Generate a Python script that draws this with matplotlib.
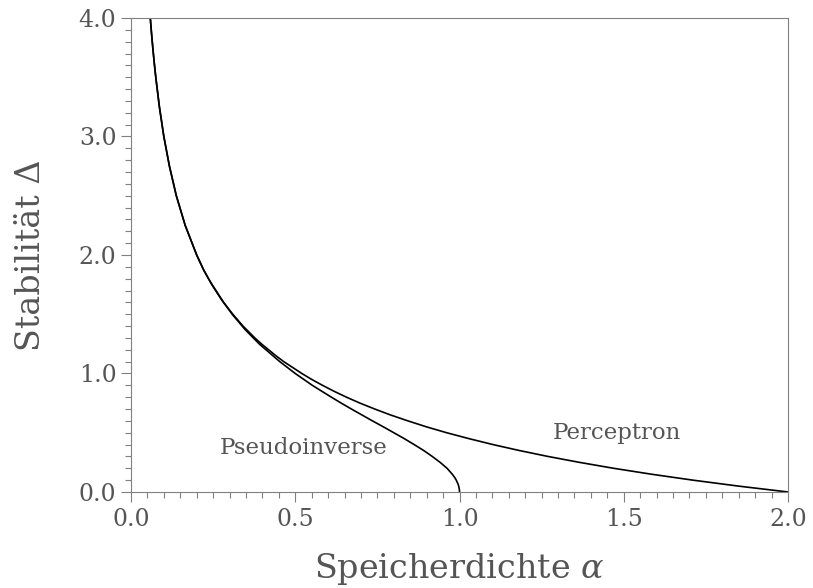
import matplotlib
matplotlib.use("Agg")
import matplotlib.pyplot as plt
from matplotlib.ticker import MultipleLocator

# Kurven (alpha, Delta)
perc_alpha = [0.0588, 0.0624, 0.0664, 0.0707, 0.0755, 0.0865, 0.100, 0.117, 0.138,
              0.165, 0.200, 0.221, 0.236, 0.247, 0.282, 0.310, 0.341, 0.377,
              0.397, 0.441, 0.465, 0.520, 0.550, 0.583, 0.618, 0.656, 0.697,
              0.742, 0.790, 0.843, 0.899, 0.961, 1.029, 1.102, 1.182, 1.269,
              1.365, 1.469, 1.584, 1.710, 1.848, 2.000]
perc_delta = [4.000, 3.875, 3.750, 3.625, 3.500, 3.250, 3.000, 2.750, 2.500,
              2.250, 2.000, 1.875, 1.800, 1.750, 1.600, 1.500, 1.400, 1.300,
              1.250, 1.150, 1.100, 1.000, 0.950, 0.900, 0.850, 0.800, 0.750,
              0.700, 0.650, 0.600, 0.550, 0.500, 0.450, 0.400, 0.350, 0.300,
              0.250, 0.200, 0.150, 0.100, 0.050, 0.000]

pinv_alpha = [0.0588, 0.0624, 0.0664, 0.0707, 0.0755, 0.0865, 0.100, 0.117, 0.138,
              0.165, 0.200, 0.221, 0.246, 0.275, 0.308, 0.346, 0.390, 0.453,
              0.500, 0.526, 0.552, 0.581, 0.610, 0.640, 0.671, 0.703, 0.735,
              0.768, 0.800, 0.832, 0.862, 0.891, 0.917, 0.941, 0.962, 0.978,
              0.986, 0.990, 0.9951, 0.9975, 0.9991, 0.9999, 1.000]
pinv_delta = [4.000, 3.875, 3.750, 3.625, 3.500, 3.250, 3.000, 2.750, 2.500,
              2.250, 2.000, 1.875, 1.750, 1.625, 1.500, 1.375, 1.250, 1.100,
              1.000, 0.950, 0.900, 0.850, 0.800, 0.750, 0.700, 0.650, 0.600,
              0.550, 0.500, 0.450, 0.400, 0.350, 0.300, 0.250, 0.200, 0.150,
              0.120, 0.100, 0.070, 0.050, 0.030, 0.010, 0.000]

x_ticks = [0.0, 0.5, 1.0, 1.5, 2.0]
y_ticks = [0.0, 1.0, 2.0, 3.0, 4.0]

plt.rcParams["font.family"] = "DejaVu Serif"
plt.rcParams["mathtext.fontset"] = "dejavuserif"

grau = "#808080"
textfarbe = "#555555"

fig = plt.figure(figsize=(8.13, 5.88), dpi=100)
ax = fig.add_axes([0.1611, 0.1633, 0.8082, 0.8061])

ax.plot(perc_alpha, perc_delta, color="black", linewidth=1.2)
ax.plot(pinv_alpha, pinv_delta, color="black", linewidth=1.2)

ax.text(0.524, 0.371, "Pseudoinverse", ha="center", va="center",
        fontsize=16.5, color=textfarbe)
ax.text(1.479, 0.498, "Perceptron", ha="center", va="center",
        fontsize=16.5, color=textfarbe)

ax.set_xlim(0, 2)
ax.set_ylim(0, 4)
ax.set_xticks(x_ticks)
ax.set_yticks(y_ticks)
ax.set_xticklabels([f"{v:.1f}" for v in x_ticks])
ax.set_yticklabels([f"{v:.1f}" for v in y_ticks])
ax.xaxis.set_minor_locator(MultipleLocator(0.05))
ax.yaxis.set_minor_locator(MultipleLocator(0.1))

for s in ax.spines.values():
    s.set_color(grau)
    s.set_linewidth(0.8)

ax.tick_params(which="major", direction="out", length=7.5, width=0.8,
               color=grau, labelsize=17, labelcolor=textfarbe)
ax.tick_params(axis="x", which="major", pad=4)
ax.tick_params(axis="y", which="major", pad=3)
ax.tick_params(which="minor", direction="out", length=4, width=0.8, color=grau)

ax.set_xlabel(r"Speicherdichte $\alpha$", fontsize=24, color=textfarbe)
ax.set_ylabel("Stabilität Δ", fontsize=24, color=textfarbe)
ax.xaxis.label.set_va("baseline")
ax.xaxis.set_label_coords(0.5, -0.181)
ax.yaxis.label.set_va("baseline")
ax.yaxis.set_label_coords(-0.1385, 0.5)

fig.savefig("out.png", dpi=100)
plt.close()
